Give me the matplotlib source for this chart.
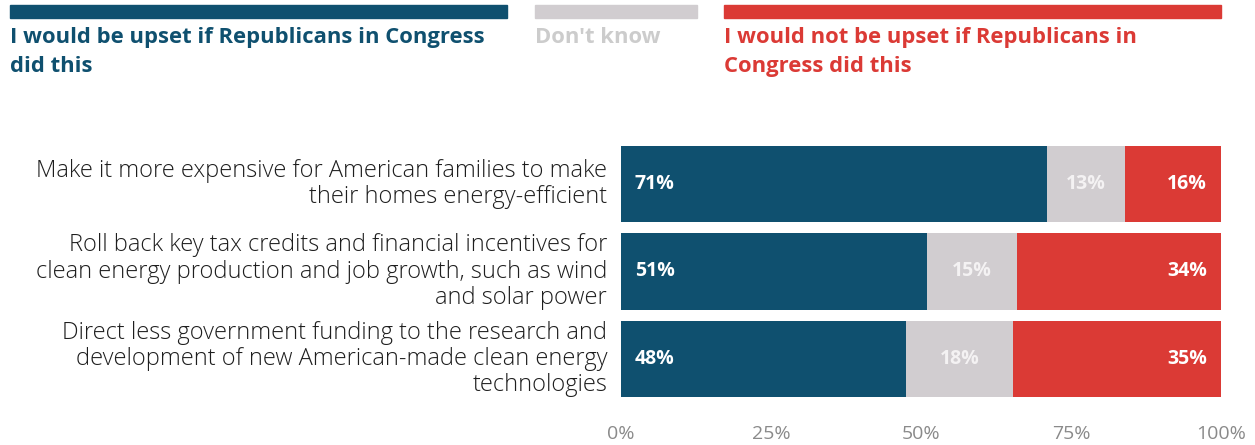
import matplotlib
matplotlib.use('Agg')
import matplotlib.pyplot as plt
from matplotlib.patches import Rectangle
import numpy as np

plt.rcParams['font.family'] = ['Open Sans', 'DejaVu Sans']

categories = [
    'Make it more expensive for American families to make\ntheir homes energy-efficient',
    'Roll back key tax credits and financial incentives for\nclean energy production and job growth, such as wind\nand solar power',
    'Direct less government funding to the research and\ndevelopment of new American-made clean energy\ntechnologies',
]
upset = [71, 51, 48]
dont_know = [13, 15, 18]
not_upset = [16, 34, 35]

series_names = ['I would be upset if Republicans in Congress\ndid this',
                "Don't know",
                'I would not be upset if Republicans in\nCongress did this']
tick_values = [0, 25, 50, 75, 100]

BLUE = '#0f506f'
GREY = '#d1cdd0'
RED = '#db3a35'

W, H = 1255, 445
fig = plt.figure(figsize=(W / 100, H / 100), dpi=100)
ax = fig.add_axes([621 / W, 1 - 397 / H, 600 / W, 251 / H])

vals = np.array([upset, dont_know, not_upset], dtype=float)
vals = vals / vals.sum(axis=0) * 100  # rows don't always sum to 100
y = np.arange(len(categories))
h = 0.875

left = np.zeros(len(categories))
for row, col in zip(vals, [BLUE, GREY, RED]):
    ax.barh(y, row, left=left, height=h, color=col, edgecolor='none')
    left += row

for i in range(len(categories)):
    b, g, r = vals[:, i]
    ax.text(2.3, i, f'{upset[i]}%', color='white', fontsize=14, fontweight='bold',
            va='center', ha='left')
    ax.text(b + g / 2, i, f'{dont_know[i]}%', color='#f4f2f3', fontsize=14,
            fontweight='bold', va='center', ha='center')
    ax.text(97.7, i, f'{not_upset[i]}%', color='white', fontsize=14, fontweight='bold',
            va='center', ha='right')
    ax.text(-2.3, i, categories[i], color='#1e1e1e', fontsize=17, fontweight='light',
            va='center', ha='right', linespacing=1.12)

ax.set_xlim(0, 100)
ax.set_ylim(len(categories) - 1 + h / 2, -h / 2)
ax.set_xticks(tick_values)
ax.set_xticklabels([f'{t}%' for t in tick_values])
ax.set_yticks([])
ax.tick_params(axis='x', length=0, pad=20, labelsize=14, labelcolor='#8a8a8a')
for s in ax.spines.values():
    s.set_visible(False)

# legend across the top
legend_boxes = [(10, 507, BLUE, BLUE), (535, 697, GREY, '#cccccc'), (724, 1221, RED, RED)]
for (x0, x1, col, tcol), name in zip(legend_boxes, series_names):
    fig.patches.append(Rectangle((x0 / W, 1 - 18 / H), (x1 - x0) / W, 13 / H,
                                 transform=fig.transFigure, color=col))
    fig.text(x0 / W, 1 - 27 / H, name, color=tcol, fontsize=15.8, fontweight='bold',
             va='top', ha='left', linespacing=1.5)

fig.savefig('out.png', dpi=100)
